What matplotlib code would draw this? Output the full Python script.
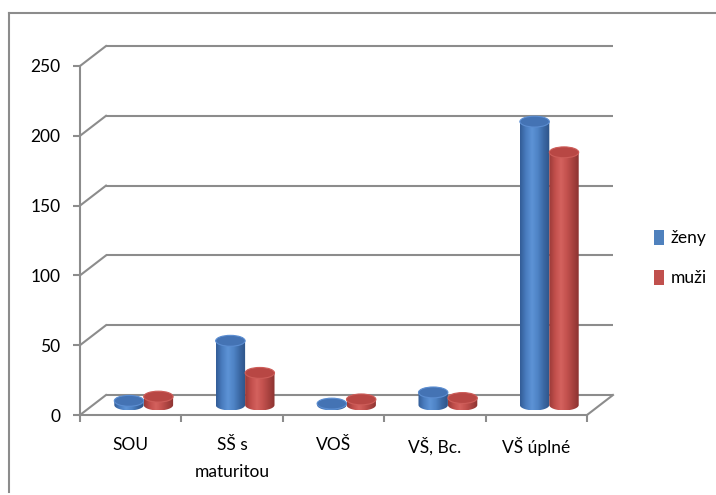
import numpy as np
import matplotlib.pyplot as plt
from matplotlib.patches import Ellipse, PathPatch, Patch
from matplotlib.path import Path
from matplotlib.colors import LinearSegmentedColormap
from matplotlib.transforms import ScaledTranslation
from matplotlib.lines import Line2D

plt.rcParams['font.family'] = ['Lato', 'DejaVu Sans']

# data
categories = ['SOU', 'SŠ s\nmaturitou', 'VOŠ', 'VŠ, Bc.', 'VŠ úplné']
zeny = [3, 46, 1, 9, 203]
muzi = [6, 23, 4, 5, 181]
series_names = ['ženy', 'muži']
yticks = [0, 50, 100, 150, 200, 250]

grid_c = '#8c8c8c'
fs = 12.5
blue_cm = LinearSegmentedColormap.from_list(
    'b', ['#335d97', '#4a7dc0', '#5d93d6', '#4e83c5', '#3b68a4', '#2e5488'])
red_cm = LinearSegmentedColormap.from_list(
    'r', ['#9a3a38', '#c24f4c', '#d4625e', '#c3514e', '#a8423f', '#8c3331'])
styles = [(blue_cm, '#4473b4', '#5b8dd1'), (red_cm, '#b84744', '#cd5d59')]

fig = plt.figure(figsize=(7.16, 4.95), dpi=100)
ax = fig.add_axes([80/716, 80/495, 507/716, 349/495])
ax.set_xlim(0, len(categories))
ax.set_ylim(0, 250)
ax.patch.set_visible(False)

# oblique depth: back wall and the middle plane where the cylinders stand
back = ax.transData + ScaledTranslation(0.26, 0.20, fig.dpi_scale_trans)
mid = ax.transData + ScaledTranslation(0.13, 0.10, fig.dpi_scale_trans)
DX, DY = ax.transData.inverted().transform(back.transform((0, 0)))

# back wall gridlines + left wall diagonals
for v in yticks:
    ax.plot([0, len(categories)], [v, v], color=grid_c, lw=1.5, transform=back,
            clip_on=False, solid_capstyle='butt', zorder=1)
    ax.plot([0, DX], [v, v + DY], color=grid_c, lw=1.5, clip_on=False, zorder=1)
# floor right edge
ax.plot([len(categories), len(categories) + DX], [0, DY], color=grid_c, lw=1.5,
        clip_on=False, zorder=1)

bar_w = 0.29
ell_h = 7.8
grad = np.linspace(0, 1, 64).reshape(1, -1)


def cylinder(xc, v, cmap, top_c, rim_c, z):
    x0, x1 = xc - bar_w/2, xc + bar_w/2
    t = np.linspace(np.pi, 2*np.pi, 40)
    verts = [(x0, v)] + list(zip(xc + bar_w/2*np.cos(t), ell_h/2*np.sin(t))) + [(x1, v), (x0, v)]
    body = PathPatch(Path(verts), facecolor='none', edgecolor='none', transform=mid)
    ax.add_patch(body)
    im = ax.imshow(grad, cmap=cmap, extent=[x0, x1, -ell_h/2, v], aspect='auto',
                   transform=mid, zorder=z, interpolation='bilinear')
    im.set_clip_path(body)
    ax.add_patch(Ellipse((xc, v), bar_w, ell_h, facecolor=top_c, edgecolor=rim_c,
                         lw=0.8, transform=mid, zorder=z + 0.5))


z = 3
for i in range(len(categories)):
    for k, vals in enumerate([zeny, muzi]):
        xc = i + 0.5 + (k - 0.5) * bar_w
        cylinder(xc, vals[i], *styles[k], z)
        z += 1

ax.set_xlim(0, len(categories))
ax.set_ylim(0, 250)

# axes styling
for s in ['top', 'right']:
    ax.spines[s].set_visible(False)
for s in ['left', 'bottom']:
    ax.spines[s].set_color(grid_c)
    ax.spines[s].set_linewidth(1.5)
ax.set_yticks(yticks)
ax.tick_params(axis='y', length=5, width=1.5, color=grid_c, labelsize=fs, pad=9)
ax.set_xticks(range(len(categories) + 1))
ax.set_xticklabels([])
ax.tick_params(axis='x', which='major', length=5, width=1.5, color=grid_c)
ax.set_xticks(np.arange(len(categories)) + 0.5, minor=True)
ax.set_xticklabels(categories, minor=True, fontsize=fs, linespacing=1.8, va='top')
ax.tick_params(axis='x', which='minor', length=0, pad=16)

handles = [Patch(facecolor='#4f81bd', edgecolor='none'),
           Patch(facecolor='#c0504d', edgecolor='none')]
fig.legend(handles, series_names, loc='center left', bbox_to_anchor=(654/716, 1 - 258/495),
           frameon=False, fontsize=fs, handlelength=0.55, handleheight=0.95,
           handletextpad=0.4, labelspacing=1.35, borderpad=0, borderaxespad=0)

# chart frame
fig.add_artist(Line2D([8.5/716, 8.5/716], [1 - 492/495, 1 - 13/495], color=grid_c, lw=1.5))
fig.add_artist(Line2D([8.5/716, 1], [1 - 13/495, 1 - 13/495], color=grid_c, lw=1.5))

fig.savefig('out.png', dpi=100)
